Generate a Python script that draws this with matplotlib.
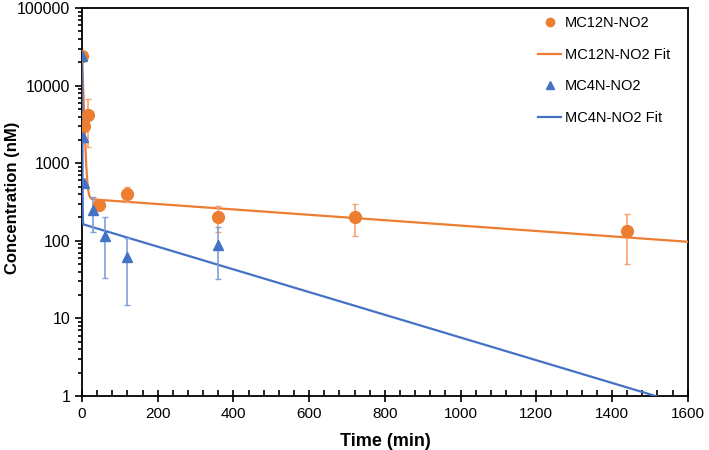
import matplotlib.pyplot as plt
import numpy as np
from matplotlib.ticker import MultipleLocator, LogLocator, NullFormatter
from matplotlib.lines import Line2D

plt.rcParams['font.family'] = ['Liberation Sans', 'DejaVu Sans']

# measured data
t_mc12 = [0, 5, 15, 45, 120, 360, 720, 1440]
c_mc12 = [24000, 3000, 4200, 290, 400, 200, 205, 135]
lo_mc12 = [0, 0, 2600, 20, 80, 70, 90, 85]
hi_mc12 = [0, 0, 2600, 20, 100, 80, 95, 85]

t_mc4 = [0, 2, 5, 30, 60, 120, 360]
c_mc4 = [24000, 2200, 550, 250, 115, 62, 88]
lo_mc4 = [0, 0, 0, 120, 82, 47, 56]
hi_mc4 = [0, 0, 0, 120, 85, 48, 62]

# biexponential fit parameters: C = A*exp(-a t) + B*exp(-b t)
fit_mc12 = (23650, 0.33, 350, 0.0008)
fit_mc4 = (23850, 3.0, 165, 0.00337)

orange = '#ED7D31'
blue = '#4472C4'

fig = plt.figure(figsize=(7.09, 4.5), dpi=100)
ax = fig.add_axes([0.1157, 0.12, 0.8543, 0.862])

tt = np.concatenate([np.linspace(0, 40, 800), np.linspace(40, 1600, 800)])
def biexp(p, t):
    return p[0] * np.exp(-p[1] * t) + p[2] * np.exp(-p[3] * t)

ax.errorbar(t_mc12, c_mc12, yerr=[lo_mc12, hi_mc12], fmt='o', color=orange,
            ms=8.5, ecolor='#F4A46E', elinewidth=1.2, capsize=2.5, capthick=1,
            zorder=4)
ax.plot(tt, biexp(fit_mc12, tt), color=orange, lw=1.6, zorder=3)
ax.errorbar(t_mc4, c_mc4, yerr=[lo_mc4, hi_mc4], fmt='^', color=blue,
            ms=7, ecolor='#7FA0D9', elinewidth=1.2, capsize=2.5, capthick=1,
            zorder=4)
ax.plot(tt, biexp(fit_mc4, tt), color=blue, lw=1.6, zorder=3)

ax.set_yscale('log')
ax.set_xlim(0, 1600)
ax.set_ylim(1, 100000)
ax.xaxis.set_major_locator(MultipleLocator(200))
ax.xaxis.set_minor_locator(MultipleLocator(40))
ax.yaxis.set_minor_locator(LogLocator(base=10, subs=np.arange(2, 10), numticks=10))
ax.yaxis.set_minor_formatter(NullFormatter())
ax.set_yticks([1, 10, 100, 1000, 10000, 100000])
ax.set_yticklabels(['1', '10', '100', '1000', '10000', '100000'])

ax.tick_params(axis='x', which='major', direction='inout', length=8, width=1.2, labelsize=11, pad=4)
ax.tick_params(axis='x', which='minor', direction='in', length=4, width=1.2)
ax.tick_params(axis='y', which='major', direction='out', length=5, width=1.2, labelsize=11.5)
ax.tick_params(axis='y', which='minor', direction='out', length=3, width=1.2)
for s in ax.spines.values():
    s.set_linewidth(1.3)

ax.set_xlabel('Time (min)', fontsize=13, fontweight='bold')
ax.set_ylabel('Concentration (nM)', fontsize=12, fontweight='bold')
ax.xaxis.set_label_coords(0.5, -0.095)
ax.yaxis.set_label_coords(-0.102, 0.51)

handles = [
    Line2D([], [], ls='none', marker='o', color=orange, ms=6),
    Line2D([], [], color=orange, lw=1.6),
    Line2D([], [], ls='none', marker='^', color=blue, ms=6),
    Line2D([], [], color=blue, lw=1.6),
]
labels = ['MC12N-NO2', 'MC12N-NO2 Fit', 'MC4N-NO2', 'MC4N-NO2 Fit']
ax.legend(handles, labels, loc='upper right', bbox_to_anchor=(0.993, 1.013), frameon=False,
          fontsize=10.5, labelspacing=1.2, handlelength=1.6, handletextpad=0.25)

fig.savefig('out.png', dpi=100)
